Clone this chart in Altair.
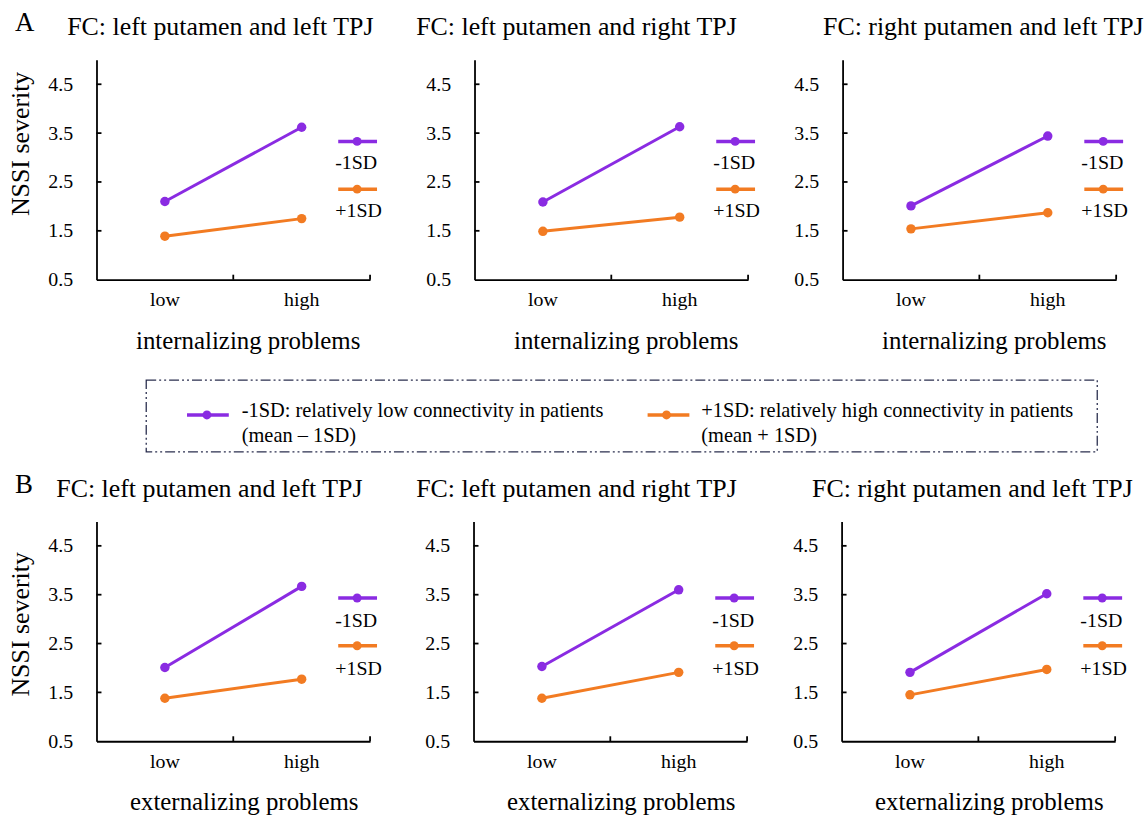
import altair as alt
import pandas as pd

FONT = "Liberation Serif"

# ---------------- data ----------------
levels = ["low", "high"]
series = ["-1SD", "+1SD"]
series_colors = ["#8a2be2", "#f27b22"]
panel_titles = ["FC: left putamen and left TPJ",
                "FC: left putamen and right TPJ",
                "FC: right putamen and left TPJ"]
row_letters = ["A", "B"]
x_titles = ["internalizing problems", "externalizing problems"]
y_title = "NSSI severity"
y_ticks = [0.5, 1.5, 2.5, 3.5, 4.5]
y_domain = [0.5, 5.0]

# Row A (internalizing problems): [low, high] for each panel
a_minus = [[2.10, 3.62], [2.09, 3.63], [2.01, 3.44]]
a_plus = [[1.39, 1.75], [1.49, 1.78], [1.54, 1.87]]
# Row B (externalizing problems)
b_minus = [[2.01, 3.67], [2.03, 3.60], [1.91, 3.52]]
b_plus = [[1.38, 1.77], [1.38, 1.91], [1.45, 1.97]]

box_legend_lines = [
    ["-1SD: relatively low connectivity in patients", "(mean \u2013 1SD)"],
    ["+1SD: relatively high connectivity in patients", "(mean + 1SD)"],
]

# ---------------- layout (pixels) ----------------
W, H = 275, 221
HSPACE = 34
title_dx = [[-13, -35, 4], [-24, -34, -6]]
xtitle_x = [152, 148]
ytitle_y = [84, 103]
mini_y = [[82, 104, 130, 152], [77, 100, 125, 148]]
TICK_FS = 20
TITLE_FS = 26
AXTITLE_FS = 25


def panel(r, c, minus, plus):
    rows = []
    for s, vals in zip(series, [minus, plus]):
        for lv, v in zip(levels, vals):
            rows.append({"level": lv, "series": s, "value": v})
    df = pd.DataFrame(rows)

    xscale = alt.Scale(type="band", domain=levels, paddingInner=0, paddingOuter=0)
    yscale = alt.Scale(domain=y_domain, nice=False, zero=False)

    xaxis = alt.Axis(title=x_titles[r], titleFont=FONT, titleFontSize=AXTITLE_FS,
                     titleFontWeight="normal", titleColor="black",
                     titleX=xtitle_x[r], titlePadding=19,
                     labelFont=FONT, labelFontSize=TICK_FS, labelColor="black",
                     labelAngle=0, labelPadding=10, ticks=False,
                     domainColor="black", domainWidth=1.8, grid=False)
    ykw = dict(values=y_ticks, format=".1f", labelFont=FONT, labelFontSize=TICK_FS,
               labelColor="black", labelPadding=24, ticks=False,
               domainColor="black", domainWidth=1.8, grid=False)
    if c == 0:
        yaxis = alt.Axis(title=y_title, titleFont=FONT, titleFontSize=26,
                         titleFontWeight="normal", titleColor="black",
                         titlePadding=14, titleY=ytitle_y[r], **ykw)
    else:
        yaxis = alt.Axis(title=None, **ykw)

    lines = alt.Chart(df).mark_line(
        strokeWidth=3,
        point=alt.OverlayMarkDef(filled=True, size=90, opacity=1),
    ).encode(
        x=alt.X("level:N", sort=levels, scale=xscale, axis=xaxis, bandPosition=0.5),
        y=alt.Y("value:Q", scale=yscale, axis=yaxis),
        color=alt.Color("series:N", scale=alt.Scale(domain=series, range=series_colors),
                        legend=None),
    )

    # inward tick marks (axis ticks cannot point inward)
    xt = alt.Chart(pd.DataFrame({"level": levels})).mark_rule(
        color="black", strokeWidth=1.8).encode(
        x=alt.X("level:N", sort=levels, scale=xscale, axis=xaxis, bandPosition=1),
        y=alt.value(H), y2=alt.value(H - 5))
    yt = alt.Chart(pd.DataFrame({"value": y_ticks[1:]})).mark_rule(
        color="black", strokeWidth=1.8).encode(
        y=alt.Y("value:Q", scale=yscale, axis=yaxis),
        x=alt.value(0), x2=alt.value(5))

    layers = [lines, xt, yt]
    for i, (s, colr) in enumerate(zip(series, series_colors)):
        ly = mini_y[r][2 * i]
        ty = mini_y[r][2 * i + 1]
        one = alt.Chart(pd.DataFrame({"series": [s]}))
        layers.append(one.mark_rule(color=colr, strokeWidth=3.5).encode(
            x=alt.value(243), x2=alt.value(282), y=alt.value(ly)))
        layers.append(one.mark_point(filled=True, size=80, color=colr, opacity=1).encode(
            x=alt.value(262), y=alt.value(ly)))
        layers.append(one.mark_text(font=FONT, fontSize=TICK_FS, align="left",
                                    baseline="middle", color="black").encode(
            x=alt.value(240), y=alt.value(ty), text="series:N"))

    return alt.layer(*layers).properties(
        width=W, height=H,
        title=alt.TitleParams(text=panel_titles[c], font=FONT, fontSize=TITLE_FS,
                              fontWeight="normal", color="black", anchor="middle",
                              dx=title_dx[r][c], offset=20),
    )


def row(r, minus, plus):
    return alt.hconcat(
        *[panel(r, c, minus[c], plus[c]) for c in range(3)],
        spacing=HSPACE,
        title=alt.TitleParams(text=row_letters[r], font=FONT, fontSize=27,
                              fontWeight="normal", color="black", anchor="start",
                              offset=-23, dx=7),
    )


rowA = row(0, a_minus, a_plus)
rowB = row(1, b_minus, b_plus)

# ---------------- central legend box ----------------
LW, LH = 1010, 81
box_layers = [
    alt.Chart(pd.DataFrame({"k": [0]})).mark_rect(
        fill="white", fillOpacity=0, stroke="#2b2f4f", strokeWidth=1.3,
        strokeDash=[10, 3, 2, 3, 2, 3]).encode(
        x=alt.value(50), x2=alt.value(1006), y=alt.value(9), y2=alt.value(81))
]
entry_x = [(91, 133, 111, 146), (554, 596, 573, 608)]
for (x0, x1, xc, xt_), s, colr, txt in zip(entry_x, series, series_colors, box_legend_lines):
    one = alt.Chart(pd.DataFrame({"l1": [txt[0]], "l2": [txt[1]]}))
    box_layers.append(one.mark_rule(color=colr, strokeWidth=3.5).encode(
        x=alt.value(x0), x2=alt.value(x1), y=alt.value(44)))
    box_layers.append(one.mark_point(filled=True, size=80, color=colr, opacity=1).encode(
        x=alt.value(xc), y=alt.value(44)))
    box_layers.append(one.mark_text(font=FONT, fontSize=20.5, align="left",
                                    baseline="middle", color="black").encode(
        x=alt.value(xt_), y=alt.value(40), text="l1:N"))
    box_layers.append(one.mark_text(font=FONT, fontSize=20.5, align="left",
                                    baseline="middle", color="black").encode(
        x=alt.value(xt_), y=alt.value(65), text="l2:N"))
legend_box = alt.layer(*box_layers).properties(width=LW, height=LH)

chart = alt.vconcat(rowA, legend_box, rowB, spacing=18).properties(
    padding={"left": 8, "top": 7, "right": 0, "bottom": 0},
    background="white",
).configure_view(strokeWidth=0)

chart.save("out.html", embed_options={"renderer": "svg", "actions": False})
